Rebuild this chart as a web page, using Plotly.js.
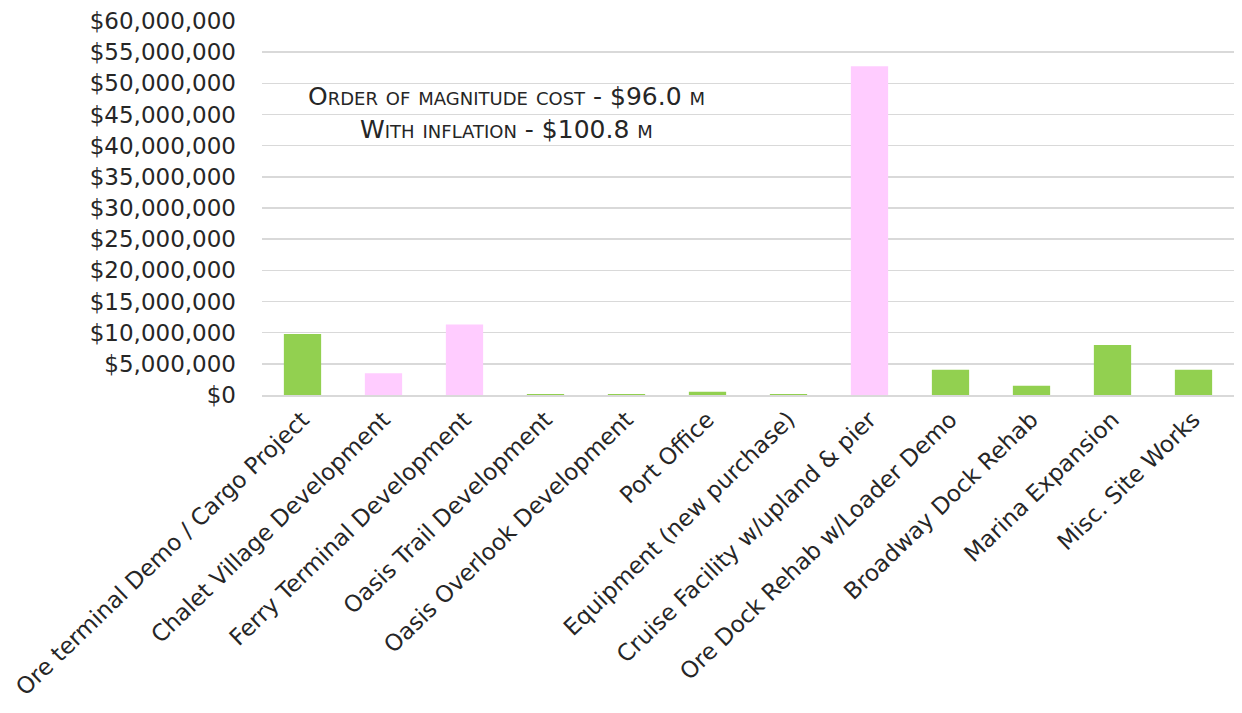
<!DOCTYPE html>
<html><head><meta charset="utf-8">
<script src="https://cdn.plot.ly/plotly-3.0.1.min.js"></script>
<style>html,body{margin:0;padding:0;background:#fff}#c{width:1242px;height:713px}</style>
</head><body><div id="c"></div>
<script>
const categories = ["Ore terminal Demo / Cargo Project","Chalet Village Development","Ferry Terminal Development","Oasis Trail Development","Oasis Overlook Development","Port Office","Equipment (new purchase)","Cruise Facility w/upland & pier","Ore Dock Rehab w/Loader Demo","Broadway Dock Rehab","Marina Expansion","Misc. Site Works"];
const costs = [9800000,3470000,11330000,150000,150000,530000,150000,52750000,4060000,1500000,8030000,4060000];
const barGroup = ["green","pink","pink","green","green","green","green","pink","green","green","green","green"];
const groupColors = {green:"#92D050", pink:"#FFCCFF"};
const tickVals = [0,5e6,10e6,15e6,20e6,25e6,30e6,35e6,40e6,45e6,50e6,55e6,60e6];
const tickText = tickVals.map(v => "$" + v.toLocaleString("en-US"));
const noteLines = ["Order of magnitude cost - $96.0 m","With inflation - $100.8 m"];

const font = "'DejaVu Sans', sans-serif";
Plotly.newPlot("c", [{
  type:"bar", x:categories, y:costs,
  marker:{color:barGroup.map(g=>groupColors[g])},
  hoverinfo:"x+y"
}], {
  width:1242, height:713,
  margin:{l:262,r:8,t:21,b:318},
  paper_bgcolor:"#fff", plot_bgcolor:"#fff",
  bargap:0.54,
  showlegend:false,
  font:{family:font, size:20, color:"#262626"},
  xaxis:{tickangle:-44, showgrid:false, showline:true, linecolor:"#d9d9d9", linewidth:2, ticks:"", tickfont:{size:23,color:"#262626",family:font}},
  yaxis:{range:[0,60e6], tickvals:tickVals, ticktext:tickText, showgrid:true, gridcolor:"#d9d9d9", gridwidth:1.5, zeroline:false, showline:false, ticks:"", ticklabelstandoff:25, tickfont:{size:23,color:"#262626",family:font}},
  annotations:[
    {xref:"paper", yref:"paper", x:0.252, y:0.797, xanchor:"center", yanchor:"middle",
     text:noteLines[0], showarrow:false, font:{size:25, color:"#262626", family:font, variant:"small-caps"}},
    {xref:"paper", yref:"paper", x:0.252, y:0.711, xanchor:"center", yanchor:"middle",
     text:noteLines[1], showarrow:false, font:{size:25, color:"#262626", family:font, variant:"small-caps"}}
  ]
}, {displayModeBar:false, staticPlot:true});
</script></body></html>
